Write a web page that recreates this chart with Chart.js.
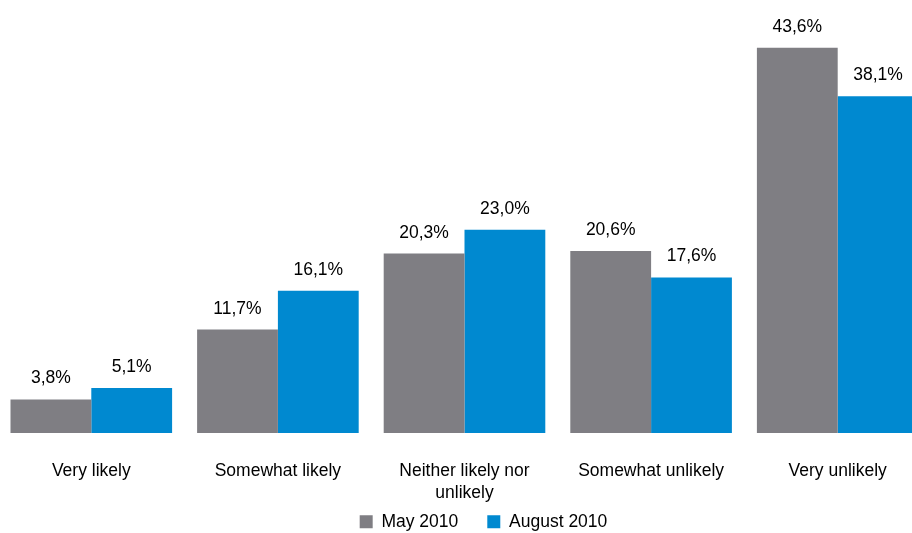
<!DOCTYPE html>
<html>
<head>
<meta charset="utf-8">
<script src="https://cdn.jsdelivr.net/npm/chart.js@4"></script>
<style>
  html, body { margin: 0; padding: 0; background: #fff; overflow: hidden; }
  #wrap { position: absolute; left: -2px; top: 0; width: 972px; height: 533px; }
</style>
</head>
<body>
<div id="wrap"><canvas id="chart"></canvas></div>
<script>
// values
const categories = ['Very likely', 'Somewhat likely', ['Neither likely nor', 'unlikely'], 'Somewhat unlikely', 'Very unlikely'];
const may2010 = [3.8, 11.7, 20.3, 20.6, 43.6];
const aug2010 = [5.1, 16.1, 23.0, 17.6, 38.1];
const seriesNames = ['May 2010', 'August 2010'];

const FONT = '"Liberation Sans Narrow", "Arial Narrow", "Liberation Sans", Arial, sans-serif';
const FSIZE = 17.5;

// writes "3,8%" style labels above each bar
const valueLabels = {
  id: 'valueLabels',
  afterDatasetsDraw(chart) {
    const ctx = chart.ctx;
    ctx.save();
    ctx.font = FSIZE + 'px ' + FONT;
    ctx.fillStyle = '#000';
    ctx.textAlign = 'center';
    ctx.textBaseline = 'alphabetic';
    chart.data.datasets.forEach((ds, i) => {
      chart.getDatasetMeta(i).data.forEach((bar, j) => {
        const txt = ds.data[j].toFixed(1).replace('.', ',') + '%';
        ctx.fillText(txt, bar.x, bar.y - 16);
      });
    });
    ctx.restore();
  }
};

// legend centred in the visible window; let the x labels run under the legend box
const layoutTweak = {
  id: 'layoutTweak',
  afterLayout(chart) {
    const lg = chart.legend;
    if (lg) { lg.left += 19; lg.right += 19; }
    if (chart.scales.x) chart.scales.x.bottom += 25;
  }
};

new Chart(document.getElementById('chart'), {
  type: 'bar',
  data: {
    labels: categories,
    datasets: [
      { label: seriesNames[0], data: may2010, backgroundColor: '#7f7e83', borderWidth: 0 },
      { label: seriesNames[1], data: aug2010, backgroundColor: '#0089d0', borderWidth: 0 }
    ]
  },
  options: {
    responsive: true,
    maintainAspectRatio: false,
    animation: false,
    layout: { padding: { left: 0, right: 39, top: 0, bottom: 0 } },
    datasets: { bar: { categoryPercentage: 0.866, barPercentage: 1 } },
    scales: {
      x: {
        grid: { display: false, drawTicks: false },
        border: { display: false },
        ticks: { color: '#000', padding: 27, maxRotation: 0, autoSkip: false, font: { family: FONT, size: FSIZE, lineHeight: 1.25 } },
        afterFit(scale) { scale.height = 51; }
      },
      y: { display: false, min: 0, max: 49 }
    },
    plugins: {
      legend: {
        position: 'bottom',
        maxHeight: 49,
        labels: { color: '#000', boxWidth: 13, boxHeight: 13, padding: 29, font: { family: FONT, size: FSIZE } }
      },
      tooltip: { enabled: false }
    }
  },
  plugins: [valueLabels, layoutTweak]
});
</script>
</body>
</html>
